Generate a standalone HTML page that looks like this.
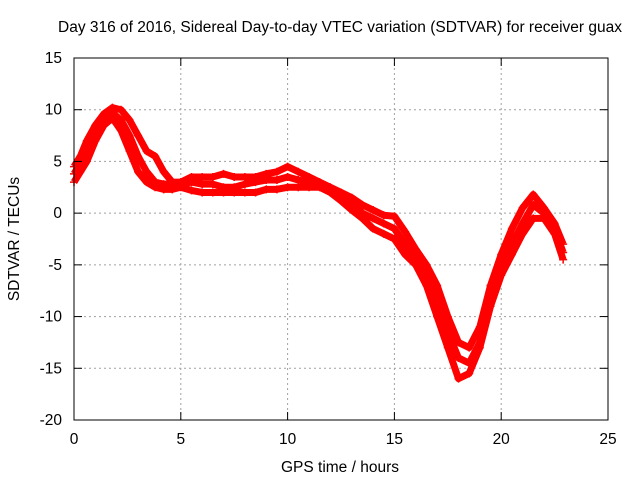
<!DOCTYPE html>
<html><head><meta charset="utf-8"><style>
body{margin:0;background:#fff}
svg text{font-family:"Liberation Sans",sans-serif;font-size:15.5px;fill:#000}
</style></head><body>
<svg id="chart" width="640" height="480">
<text x="340" y="32" text-anchor="middle">Day 316 of 2016, Sidereal Day-to-day VTEC variation (SDTVAR) for receiver guax</text>
<g id="grid"></g>
<g id="series"></g>
<rect x="74" y="58" width="534" height="362" fill="none" stroke="#000"/>
<g id="axes"></g>
<text x="340" y="472" text-anchor="middle">GPS time / hours</text>
<text transform="translate(19,239) rotate(-90)" text-anchor="middle">SDTVAR / TECUs</text>
</svg>
<script>
const xTicks=[0,5,10,15,20,25];
const yTicks=[15,10,5,0,-5,-10,-15,-20];
const times=[0,0.3,0.6,1,1.4,1.8,2.2,2.6,3,3.4,3.8,4.2,4.6,5,5.5,6,6.5,7,7.5,8,8.5,9,9.5,10,10.5,11,11.5,12,12.5,13,13.5,14,14.5,15,15.5,16,16.5,17,17.5,18,18.5,19,19.5,20,20.5,21,21.5,22,22.5,22.9];
const upper=[4.5,5.5,7,8.5,9.6,10.2,10,9,7.5,6,5.5,4,3,3,3.5,3.5,3.5,3.8,3.5,3.5,3.5,3.8,4,4.5,4,3.5,3,2.5,2,1.5,0.8,0.3,-0.2,-0.3,-1.8,-3.5,-5,-7,-10,-12.5,-13,-11,-7,-4,-1.5,0.5,1.8,0.5,-1,-3];
const middle=[3.8,4.8,6,7.8,9,9.7,9,7.5,5.5,4,3,2.8,2.8,2.8,3,2.8,2.8,2.5,2.5,2.8,3,3.2,3.2,3.5,3.2,3,2.8,2.2,1.5,1,0,-0.5,-1,-1.5,-3,-4.5,-6,-8.5,-11.5,-14,-14.5,-12.5,-8,-5,-3,-1,0.8,0,-1.5,-3.8];
const lower=[3,4,5,7,8.5,9.2,8,6,4,3,2.5,2.3,2.3,2.5,2.2,2,2,2,2,2,2,2.3,2.3,2.5,2.5,2.5,2.5,2,1.2,0.3,-0.5,-1.5,-2,-2.5,-4,-5,-7,-10,-13,-16,-15.5,-13,-9,-6,-4,-2,-0.5,-0.5,-2,-4.5];
const X=v=>74+v*534/25, Y=v=>58+(15-v)*362/35;
const ns="http://www.w3.org/2000/svg";
const grid=document.getElementById('grid'), axes=document.getElementById('axes'), ser=document.getElementById('series');
function mk(tag,attrs,parent){const e=document.createElementNS(ns,tag);for(const k in attrs)e.setAttribute(k,attrs[k]);parent.appendChild(e);return e;}
xTicks.forEach(t=>{
  if(t>0&&t<25){const g=mk('line',{x1:X(t),x2:X(t),y1:58,y2:420,stroke:'#a0a0a0','stroke-dasharray':'2,3'},grid);
  
  }
  mk('line',{x1:X(t),x2:X(t),y1:420,y2:412,stroke:'#000'},axes);
  mk('line',{x1:X(t),x2:X(t),y1:58,y2:66,stroke:'#000'},axes);
  const tx=mk('text',{x:X(t),y:444,'text-anchor':'middle'},axes);tx.textContent=t;
  
  
});
yTicks.forEach(t=>{
  if(t>-20&&t<15){const g=mk('line',{x1:74,x2:608,y1:Y(t),y2:Y(t),stroke:'#a0a0a0','stroke-dasharray':'2,3'},grid);
  
  }
  mk('line',{x1:74,x2:82,y1:Y(t),y2:Y(t),stroke:'#000'},axes);
  mk('line',{x1:608,x2:600,y1:Y(t),y2:Y(t),stroke:'#000'},axes);
  const tx=mk('text',{x:62,y:Y(t)+5,'text-anchor':'end'},axes);tx.textContent=t;
  
  
});
[upper,middle,lower].forEach(arr=>{
  const p=mk('polyline',{points:times.map((t,i)=>X(t)+','+Y(arr[i])).join(' '),fill:'none',stroke:'#f00','stroke-width':7,'stroke-linejoin':'round'},ser);
  
  
  times.forEach((t,i)=>{
    const m=mk('path',{d:`M${X(t)-4},${Y(arr[i])}h8M${X(t)},${Y(arr[i])-4}v8`,stroke:'#f00','stroke-width':1.5},ser);
    
    
  });
});
</script>
</body></html>
